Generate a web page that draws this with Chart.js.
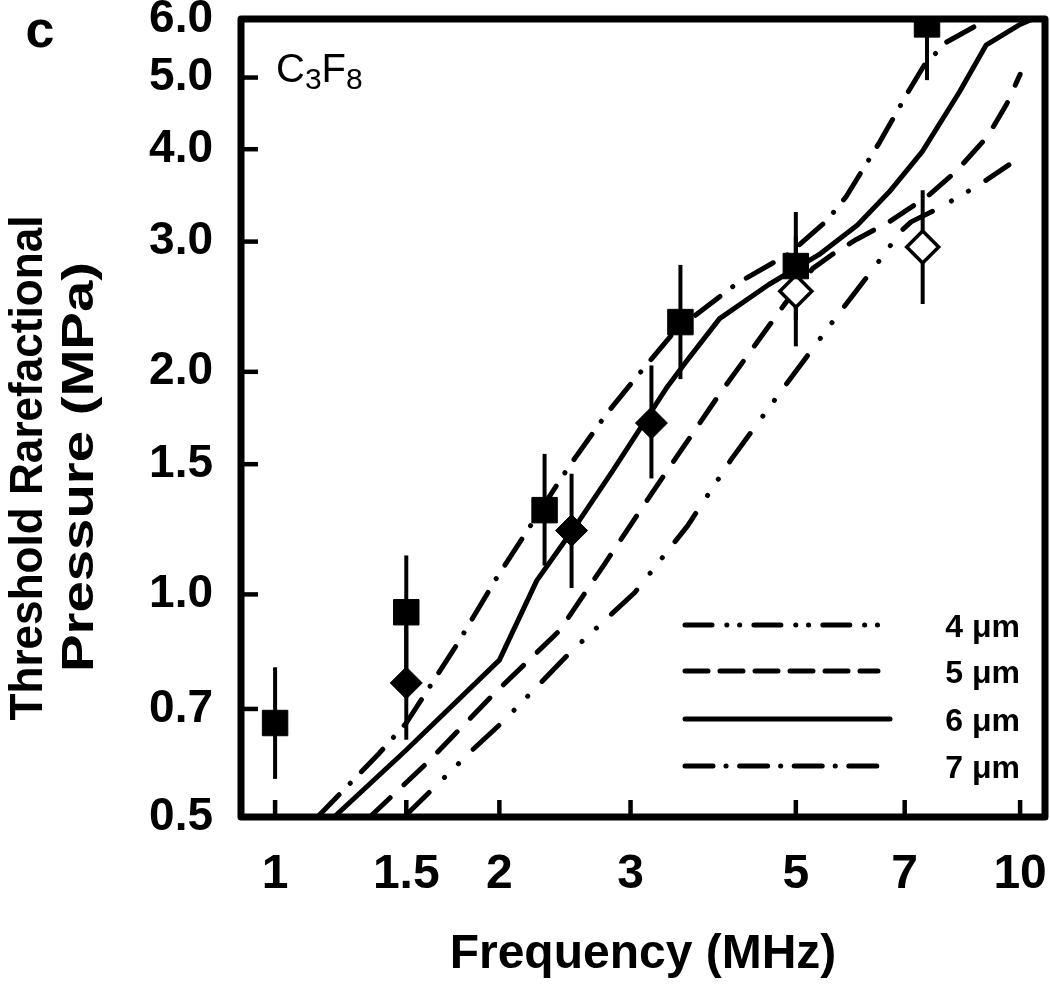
<!doctype html>
<html lang="en">
<head>
<meta charset="utf-8">
<title>Threshold Rarefactional Pressure - C3F8</title>
<script src="https://cdn.jsdelivr.net/npm/chart.js"></script>
<style>
  html, body { margin: 0; padding: 0; background: #fff; overflow: hidden; }
  #wrap { width: 1050px; height: 988px; position: relative; }
  #chart { display: block; }
</style>
</head>
<body>
<div id="wrap"><canvas id="chart"></canvas></div>
<script>
// axis ticks (both axes logarithmic)
const xTicks = [1, 1.5, 2, 3, 5, 7, 10];
const yTicks = [0.5, 0.7, 1.0, 1.5, 2.0, 3.0, 4.0, 5.0, 6.0];

// predicted thresholds, one curve per bubble diameter (MHz, MPa)
const freq4um = [1.49, 1.84, 2.02, 2.49, 3.04, 3.58, 4.10, 4.80, 5.59, 6.41, 6.92, 7.14, 7.83, 8.81, 9.66];
const thr4um  = [0.50, 0.616, 0.672, 0.835, 1.006, 1.239, 1.525, 1.895, 2.33, 2.79, 3.10, 3.19, 3.34, 3.58, 3.81];

const freq5um = [1.34, 1.60, 1.96, 2.41, 2.77, 3.20, 3.95, 4.86, 5.27, 5.59, 6.03, 6.67, 7.50, 8.20, 9.04, 9.59, 10.0];
const thr5um  = [0.50, 0.592, 0.731, 0.894, 1.10, 1.368, 1.866, 2.49, 2.76, 2.88, 3.02, 3.19, 3.45, 3.73, 4.16, 4.60, 5.05];

const freq6um = [1.20, 1.50, 2.00, 2.245, 2.56, 2.84, 3.35, 3.57, 3.95, 4.60, 5.37, 6.05, 6.67, 7.39, 8.29, 9.00, 10.0, 10.4];
const thr6um  = [0.50, 0.616, 0.815, 1.044, 1.258, 1.47, 1.90, 2.07, 2.36, 2.625, 2.88, 3.16, 3.50, 3.97, 4.78, 5.53, 5.90, 6.0];

const freq7um = [1.14, 1.38, 1.50, 1.76, 1.98, 2.47, 2.78, 3.02, 3.44, 4.16, 4.90, 5.50, 5.84, 6.48, 7.10, 7.44, 7.96, 8.74, 9.10];
const thr7um  = [0.50, 0.61, 0.67, 0.86, 1.05, 1.48, 1.75, 1.94, 2.27, 2.63, 2.89, 3.20, 3.45, 4.09, 4.81, 5.20, 5.58, 5.88, 6.0];

// measured thresholds with error bars
const sqFreq = [1.0, 1.5, 2.3, 3.5, 5.0, 7.5];
const sqThr  = [0.67, 0.946, 1.30, 2.335, 2.78, 5.90];
const sqLow  = [0.563, 0.792, 1.094, 1.955, 2.35, 4.96];
const sqHigh = [0.797, 1.129, 1.549, 2.79, 3.29, 7.0];

const dmFreq = [1.5, 2.5, 3.2];
const dmThr  = [0.759, 1.22, 1.705];
const dmLow  = [0.636, 1.02, 1.435];
const dmHigh = [0.906, 1.456, 2.04];

const odFreq = [5.0, 7.4];
const odThr  = [2.57, 2.95];
const odLow  = [2.165, 2.47];
const odHigh = [3.05, 3.52];

const yTitleLines = ['Threshold Rarefactional', 'Pressure (MPa)'];

const FONT = "'Liberation Sans', Arial, sans-serif";

function curve(label, xs, ys, dash, legendDash) {
  return {
    label: label,
    data: xs.map((x, i) => ({ x: x, y: ys[i] })),
    showLine: true,
    borderColor: '#000',
    borderWidth: 5,
    borderDash: dash,
    legendDash: legendDash,
    borderCapStyle: 'round',
    borderJoinStyle: 'round',
    pointRadius: 0,
    pointHoverRadius: 0,
    order: 2,
    isCurve: true
  };
}

function markers(label, xs, ys, lo, hi, style, radius, fill, bw) {
  return {
    label: label,
    data: xs.map((x, i) => ({ x: x, y: ys[i], lo: lo[i], hi: hi[i] })),
    showLine: false,
    pointStyle: style,
    pointRadius: radius,
    pointHoverRadius: radius,
    pointBackgroundColor: fill,
    pointBorderColor: '#000',
    pointBorderWidth: bw,
    order: 1
  };
}

// draws rotated text stretched to a given length along its baseline
function rotatedText(ctx, text, bx, cy, font, length) {
  ctx.save();
  ctx.font = font;
  const w = ctx.measureText(text).width;
  ctx.translate(bx, cy);
  ctx.rotate(-Math.PI / 2);
  ctx.scale(length / w, 1);
  ctx.fillText(text, 0, 0);
  ctx.restore();
}

const decor = {
  id: 'decor',
  beforeDatasetsDraw(chart) {
    const ctx = chart.ctx, xs = chart.scales.x, ys = chart.scales.y;
    ctx.save();
    ctx.strokeStyle = '#000';
    ctx.lineWidth = 4;
    chart.data.datasets.forEach(ds => {
      if (ds.isCurve) return;
      ds.data.forEach(p => {
        const px = xs.getPixelForValue(p.x);
        ctx.beginPath();
        ctx.moveTo(px, ys.getPixelForValue(p.lo));
        ctx.lineTo(px, Math.max(ys.getPixelForValue(p.hi), chart.chartArea.top));
        ctx.stroke();
      });
    });
    ctx.restore();
  },
  afterDraw(chart) {
    const ctx = chart.ctx, a = chart.chartArea;
    const xs = chart.scales.x, ys = chart.scales.y;
    ctx.save();
    ctx.strokeStyle = '#000';
    ctx.fillStyle = '#000';

    // inward tick marks
    ctx.lineWidth = 4.5;
    xTicks.forEach(v => {
      const px = xs.getPixelForValue(v);
      ctx.beginPath(); ctx.moveTo(px, a.bottom); ctx.lineTo(px, a.bottom - 17); ctx.stroke();
    });
    yTicks.forEach(v => {
      if (v === ys.min || v === ys.max) return;
      const py = ys.getPixelForValue(v);
      ctx.beginPath(); ctx.moveTo(a.left, py); ctx.lineTo(a.left + 17, py); ctx.stroke();
    });

    // frame
    ctx.lineWidth = 7;
    ctx.lineJoin = 'round';
    ctx.strokeRect(a.left, a.top, a.right - a.left, a.bottom - a.top);

    // legend inside the plot
    const rows = [625, 671, 719, 766];
    const curves = chart.data.datasets.filter(d => d.isCurve);
    ctx.lineCap = 'round';
    ctx.lineWidth = 5;
    ctx.font = 'bold 32px ' + FONT;
    ctx.textAlign = 'right';
    ctx.textBaseline = 'middle';
    curves.forEach((d, i) => {
      ctx.setLineDash(d.legendDash);
      ctx.beginPath();
      ctx.moveTo(685, rows[i]);
      ctx.lineTo(d.legendDash.length ? 878 : 890, rows[i]);
      ctx.stroke();
      ctx.setLineDash([]);
      ctx.fillText(d.label, 1020, rows[i] + 3);
    });

    // y axis title, two lines
    ctx.textAlign = 'center';
    ctx.textBaseline = 'alphabetic';
    rotatedText(ctx, yTitleLines[0], 42, 468, 'bold 46px ' + FONT, 505);
    rotatedText(ctx, yTitleLines[1], 93, 467, 'bold 44px ' + FONT, 410);

    // panel letter
    ctx.font = 'bold 52px ' + FONT;
    ctx.fillText('c', 40, 47);

    // gas label C3F8 with subscripts
    ctx.textAlign = 'left';
    let cx = 276;
    [['C', 40, 82], ['3', 30, 89], ['F', 40, 82], ['8', 30, 89]].forEach(t => {
      ctx.font = t[1] + 'px ' + FONT;
      ctx.fillText(t[0], cx, t[2]);
      cx += ctx.measureText(t[0]).width;
    });
    ctx.restore();
  }
};

const tickFont = size => ({ family: FONT, size: size, weight: 'bold' });

new Chart(document.getElementById('chart'), {
  type: 'scatter',
  data: {
    datasets: [
      curve('4 \u03bcm', freq4um, thr4um, [35, 21.5, 0.1, 19.5, 0.1, 20.5], [27, 14.8, 0.1, 12.7, 0.1, 14.2]),
      curve('5 \u03bcm', freq5um, thr5um, [28, 19], [23, 12]),
      curve('6 \u03bcm', freq6um, thr6um, [], []),
      curve('7 \u03bcm', freq7um, thr7um, [31, 16, 0.1, 16], [28, 13, 0.1, 13.5]),
      markers('squares', sqFreq, sqThr, sqLow, sqHigh, 'rect', 18, '#000', 1),
      markers('diamonds', dmFreq, dmThr, dmLow, dmHigh, 'rectRot', 16, '#000', 1),
      markers('open diamonds', odFreq, odThr, odLow, odHigh, 'rectRot', 16, '#fff', 3.5)
    ]
  },
  options: {
    responsive: true,
    maintainAspectRatio: false,
    animation: false,
    events: [],
    layout: { autoPadding: false, padding: { left: 0, right: 5, top: 19, bottom: 0 } },
    plugins: { legend: { display: false }, tooltip: { enabled: false } },
    scales: {
      x: {
        type: 'logarithmic',
        min: 0.9,
        max: 10.8,
        afterBuildTicks: s => { s.ticks = xTicks.map(v => ({ value: v })); },
        afterFit: s => { s.height = 171; s.paddingLeft = 0; s.paddingRight = 0; },
        grid: { display: false, drawTicks: false },
        border: { display: false },
        ticks: {
          autoSkip: false, maxRotation: 0, padding: 29, color: '#000',
          font: tickFont(48),
          callback: v => String(v)
        },
        title: {
          display: true, text: 'Frequency (MHz)', color: '#000',
          font: tickFont(48), padding: { top: 0, bottom: 4 }
        }
      },
      y: {
        type: 'logarithmic',
        min: 0.5,
        max: 6.0,
        afterBuildTicks: s => { s.ticks = yTicks.map(v => ({ value: v })); },
        afterFit: s => { s.width = 241; s.paddingTop = 0; s.paddingBottom = 0; },
        grid: { display: false, drawTicks: false },
        border: { display: false },
        ticks: {
          autoSkip: false, padding: 28, color: '#000',
          font: tickFont(46),
          callback: v => Number(v).toFixed(1)
        }
      }
    }
  },
  plugins: [decor]
});
</script>
</body>
</html>
